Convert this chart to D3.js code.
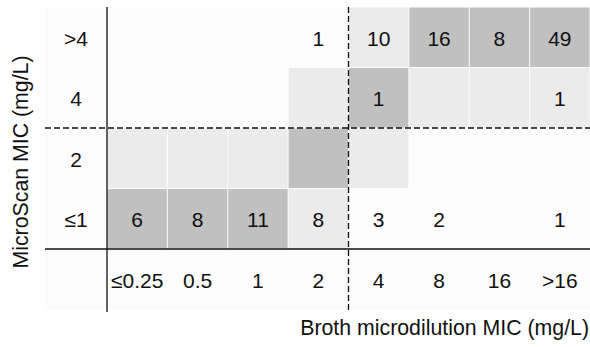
<!DOCTYPE html>
<html>
<head>
<meta charset="utf-8">
<title>MIC agreement grid</title>
<script src="https://cdn.jsdelivr.net/npm/d3@7"></script>
<style>
  body { margin: 0; background: #fff; }
  text { font-family: "Liberation Sans", Arial, sans-serif; fill: #111; }
</style>
</head>
<body>
<div id="chart"></div>
<script>
// broth microdilution (columns) vs MicroScan (rows)
var brothLabels = ["≤0.25", "0.5", "1", "2", "4", "8", "16", ">16"];
var scanLabels = [">4", "4", "2", "≤1"];
var counts = [
  [null, null, null, 1, 10, 16, 8, 49],
  [null, null, null, null, 1, null, null, 1],
  [null, null, null, null, null, null, null, null],
  [6, 8, 11, 8, 3, 2, null, 1]
];
// 0 = none, 1 = light, 2 = dark
var shade = [
  [0, 0, 0, 0, 1, 2, 2, 2],
  [0, 0, 0, 1, 2, 1, 1, 1],
  [1, 1, 1, 2, 1, 0, 0, 0],
  [2, 2, 2, 1, 0, 0, 0, 0]
];
var shadeColors = [null, "#ebebeb", "#c0c0c0"];

var W = 590, H = 347;
// note: "top" is taken by window.top, so prefix these
var gLeft = 45, gridX = 107, gRight = 590, gTop = 7, gridY = 249, gBottom = 310;
var fs = "21px";

var svg = d3.select("#chart").append("svg")
  .attr("width", W).attr("height", H);

var x = d3.scaleBand().domain(brothLabels).range([gridX, gRight]);
var y = d3.scaleBand().domain(scanLabels).range([gTop, gridY]);

svg.append("rect")
  .attr("x", gLeft).attr("y", gTop)
  .attr("width", gRight - gLeft).attr("height", gBottom - gTop)
  .attr("fill", "#fcfcfc");

var cells = [];
scanLabels.forEach(function(r, i) {
  brothLabels.forEach(function(c, j) {
    cells.push({row: r, col: c, n: counts[i][j], s: shade[i][j]});
  });
});

svg.selectAll("rect.cell")
  .data(cells.filter(function(d) { return d.s > 0; }))
  .enter().append("rect")
  .attr("class", "cell")
  .attr("x", function(d) { return x(d.col) + 0.5; })
  .attr("y", function(d) { return y(d.row) + 0.5; })
  .attr("width", x.bandwidth() - 1)
  .attr("height", y.bandwidth() - 1)
  .attr("fill", function(d) { return shadeColors[d.s]; });

svg.selectAll("text.count")
  .data(cells.filter(function(d) { return d.n != null; }))
  .enter().append("text")
  .attr("class", "count")
  .attr("x", function(d) { return x(d.col) + x.bandwidth() / 2; })
  .attr("y", function(d) { return y(d.row) + y.bandwidth() / 2 + 1; })
  .attr("text-anchor", "middle")
  .attr("dominant-baseline", "central")
  .style("font-size", fs)
  .text(function(d) { return d.n; });

// row labels
svg.selectAll("text.rowlab")
  .data(scanLabels)
  .enter().append("text")
  .attr("class", "rowlab")
  .attr("x", (gLeft + gridX) / 2)
  .attr("y", function(d) { return y(d) + y.bandwidth() / 2 + 1; })
  .attr("text-anchor", "middle")
  .attr("dominant-baseline", "central")
  .style("font-size", fs)
  .text(function(d) { return d; });

// column labels
svg.selectAll("text.collab")
  .data(brothLabels)
  .enter().append("text")
  .attr("class", "collab")
  .attr("x", function(d) { return x(d) + x.bandwidth() / 2; })
  .attr("y", (gridY + gBottom) / 2 + 1)
  .attr("text-anchor", "middle")
  .attr("dominant-baseline", "central")
  .style("font-size", fs)
  .text(function(d) { return d; });

// solid frame lines
svg.append("line")
  .attr("x1", gridX).attr("x2", gridX)
  .attr("y1", gTop).attr("y2", gBottom + 2)
  .attr("stroke", "#111").attr("stroke-width", 1.3);
svg.append("line")
  .attr("x1", gLeft).attr("x2", gRight)
  .attr("y1", gridY).attr("y2", gridY)
  .attr("stroke", "#111").attr("stroke-width", 1.3);

// breakpoint dashed lines
svg.append("line")
  .attr("x1", x("4")).attr("x2", x("4"))
  .attr("y1", gTop).attr("y2", gBottom + 2)
  .attr("stroke", "#111").attr("stroke-width", 1.3)
  .attr("stroke-dasharray", "6,3");
svg.append("line")
  .attr("x1", gLeft).attr("x2", gRight)
  .attr("y1", y("2")).attr("y2", y("2"))
  .attr("stroke", "#111").attr("stroke-width", 1.3)
  .attr("stroke-dasharray", "6,3");

// axis titles
svg.append("text")
  .attr("x", 589).attr("y", 335)
  .attr("text-anchor", "end")
  .style("font-size", "21.3px")
  .text("Broth microdilution MIC (mg/L)");
svg.append("text")
  .attr("transform", "translate(28,162) rotate(-90)")
  .attr("text-anchor", "middle")
  .style("font-size", "21.3px")
  .text("MicroScan MIC (mg/L)");
</script>
</body>
</html>
